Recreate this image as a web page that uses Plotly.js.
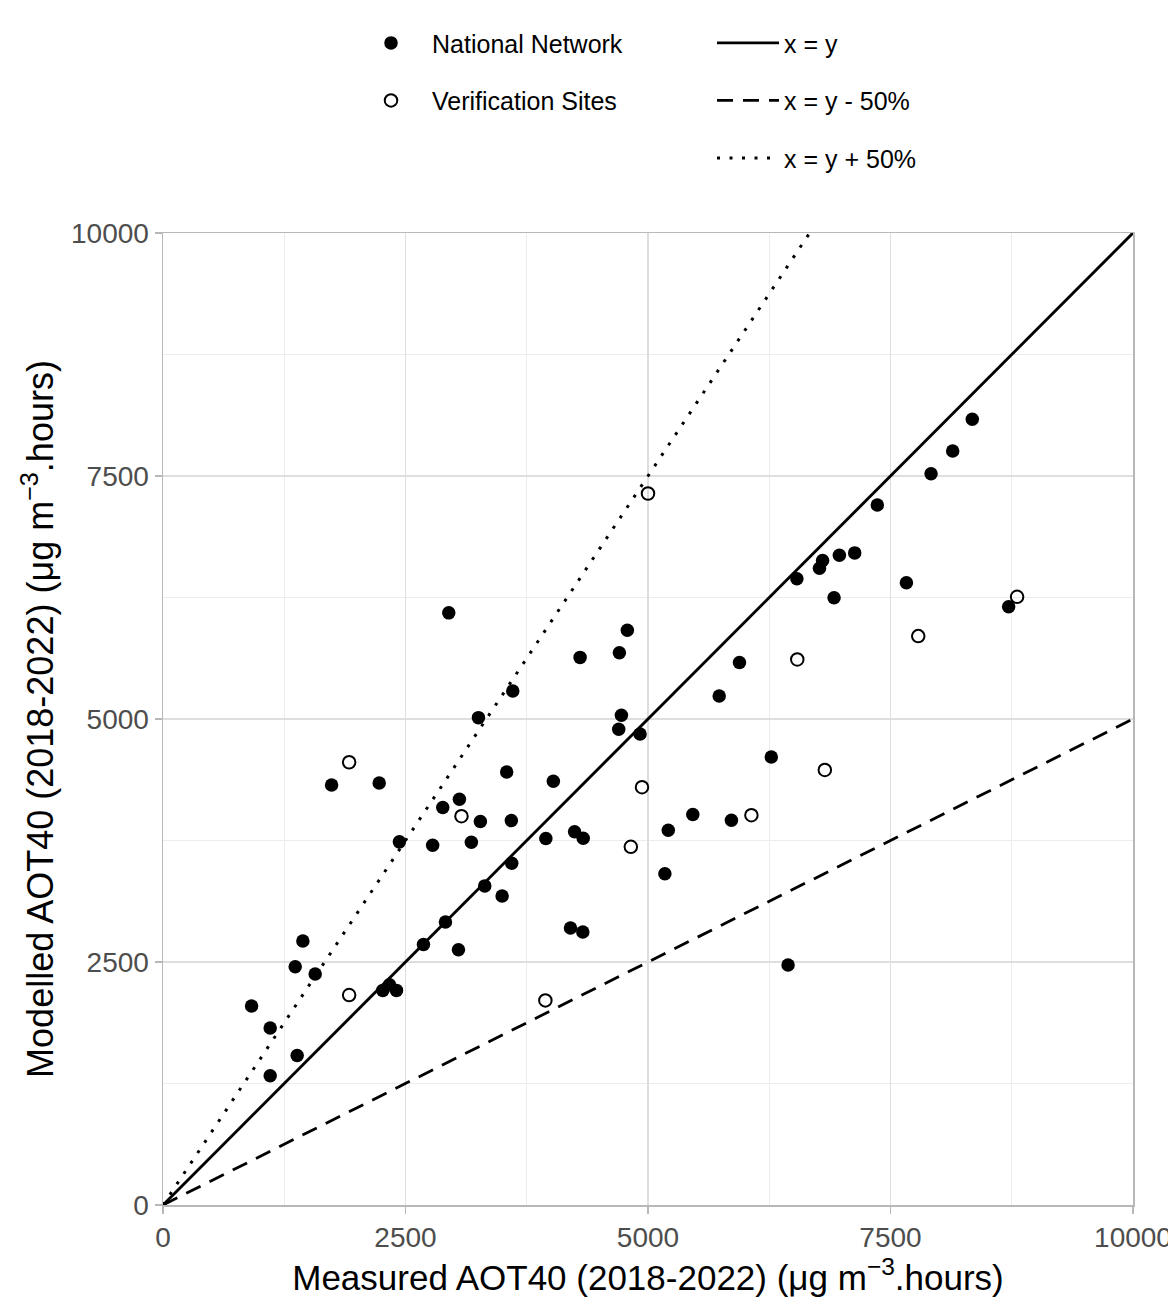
<!DOCTYPE html>
<html>
<head>
<meta charset="utf-8">
<script src="https://cdn.plot.ly/plotly-3.0.1.min.js"></script>
<style>
html, body { margin: 0; padding: 0; background: #ffffff; }
#chart { width: 1168px; height: 1299px; }
</style>
</head>
<body>
<div id="chart"></div>
<script>
// National Network sites: measured (x) vs modelled (y) AOT40
const nationalX = [913, 1105, 1105, 1383, 1363, 1442, 1569, 1738, 2229, 2266, 2335, 2407, 2437, 2685, 2780, 2884, 2912, 2946, 3046, 3056, 3179, 3252, 3272, 3317, 3496, 3543, 3591, 3595, 3606, 3947, 4024, 4201, 4243, 4300, 4328, 4332, 4698, 4705, 4726, 4787, 4918, 5174, 5209, 5462, 5734, 5860, 5943, 6271, 6444, 6535, 6768, 6800, 6918, 6973, 7131, 7364, 7664, 7918, 8141, 8343, 8718];
const nationalY = [2047, 1820, 1329, 1538, 2452, 2716, 2376, 4322, 4342, 2208, 2266, 2208, 3736, 2679, 3702, 4089, 2912, 6092, 2627, 4175, 3733, 5014, 3945, 3283, 3180, 4455, 3955, 3517, 5288, 3770, 4360, 2850, 3839, 5634, 2809, 3774, 4894, 5682, 5038, 5914, 4846, 3408, 3856, 4017, 5236, 3959, 5582, 4610, 2469, 6442, 6551, 6630, 6247, 6685, 6709, 7202, 6401, 7524, 7757, 8083, 6154];

// Verification sites
const verificationX = [1919, 1919, 3077, 3942, 4823, 4938, 5000, 6066, 6539, 6823, 7786, 8805];
const verificationY = [2160, 4555, 4000, 2105, 3685, 4298, 7320, 4010, 5613, 4476, 5853, 6257];

// Reference lines
const refX = [0, 10000];
const equalY = [0, 10000];      // x = y
const minus50Y = [0, 5000];     // x = y - 50%
const plus50Y = [0, 15000];     // x = y + 50%

const tickVals = [0, 2500, 5000, 7500, 10000];
const tickText = ['0', '2500', '5000', '7500', '10000'];

const FONT = 'Arial, "Liberation Sans", Helvetica, sans-serif';

const traces = [
  {
    type: 'scatter', mode: 'lines', name: 'x = y',
    x: refX, y: equalY,
    line: {color: '#000000', width: 2.9},
    legend: 'legend2', legendgroup: 'g1', hoverinfo: 'skip'
  },
  {
    type: 'scatter', mode: 'lines', name: 'x = y - 50%',
    x: refX, y: minus50Y,
    line: {color: '#000000', width: 2.8, dash: '16px,10px'},
    legend: 'legend2', legendgroup: 'g2', hoverinfo: 'skip'
  },
  {
    type: 'scatter', mode: 'lines', name: 'x = y + 50%',
    x: refX, y: plus50Y,
    line: {color: '#000000', width: 3, dash: '3px,9.5px'},
    legend: 'legend2', legendgroup: 'g3', hoverinfo: 'skip'
  },
  {
    type: 'scatter', mode: 'markers', name: 'National Network',
    x: nationalX, y: nationalY,
    marker: {symbol: 'circle', size: 13.5, color: '#000000'},
    legend: 'legend', legendgroup: 'm1'
  },
  {
    type: 'scatter', mode: 'markers', name: 'Verification Sites',
    x: verificationX, y: verificationY,
    marker: {symbol: 'circle-open', size: 12.5, color: '#000000', line: {width: 2, color: '#000000'}},
    legend: 'legend', legendgroup: 'm2'
  }
];

const axisCommon = {
  range: [0, 10000],
  tickvals: tickVals,
  ticktext: tickText,
  showgrid: true,
  gridcolor: '#dedede',
  gridwidth: 1.2,
  minor: {dtick: 1250, tick0: 0, showgrid: true, gridcolor: '#ececec', gridwidth: 1, ticks: ''},
  zeroline: false,
  showline: true,
  linecolor: '#b8b8b8',
  linewidth: 1.5,
  mirror: true,
  ticks: 'outside',
  ticklen: 7,
  tickwidth: 1.5,
  tickcolor: '#b8b8b8',
  tickfont: {family: FONT, size: 28, color: '#4d4d4d'},
  ticklabeloverflow: 'allow',
  fixedrange: true
};

const layout = {
  width: 1168,
  height: 1299,
  margin: {l: 163, r: 35, t: 233, b: 94, pad: 0},
  paper_bgcolor: '#ffffff',
  plot_bgcolor: '#ffffff',
  font: {family: FONT, color: '#000000'},
  showlegend: true,
  xaxis: Object.assign({}, axisCommon, {
    title: {text: 'Measured AOT40 (2018-2022) (μg m<sup>−3</sup>.hours)', font: {family: FONT, size: 35, color: '#000000'}, standoff: 4},
    automargin: false
  }),
  yaxis: Object.assign({}, axisCommon, {
    title: {text: 'Modelled AOT40 (2018-2022) (μg m<sup>−3</sup>.hours)', font: {family: FONT, size: 36, color: '#000000'}, standoff: 6},
    automargin: false
  }),
  legend: {
    x: 0.1928, y: 1.219, xanchor: 'left', yanchor: 'top',
    orientation: 'v',
    traceorder: 'grouped',
    tracegroupgap: 22,
    font: {family: FONT, size: 25, color: '#000000'},
    bgcolor: 'rgba(0,0,0,0)',
    itemwidth: 72
  },
  legend2: {
    x: 0.566, y: 1.219, xanchor: 'left', yanchor: 'top',
    orientation: 'v',
    traceorder: 'grouped',
    tracegroupgap: 22,
    font: {family: FONT, size: 25, color: '#000000'},
    bgcolor: 'rgba(0,0,0,0)',
    itemwidth: 62
  }
};

Plotly.newPlot('chart', traces, layout, {displayModeBar: false, staticPlot: true});
</script>
</body>
</html>
